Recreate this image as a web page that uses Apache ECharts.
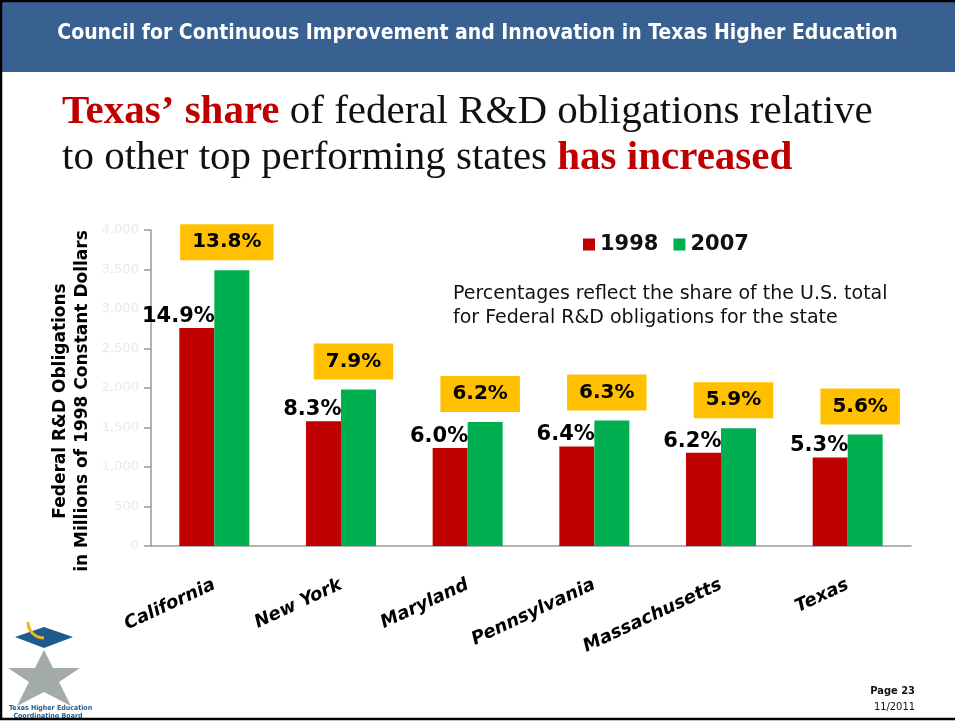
<!DOCTYPE html>
<html>
<head>
<meta charset="utf-8">
<script src="https://cdn.jsdelivr.net/npm/echarts@6/dist/echarts.min.js"></script>
<style>
  html, body { margin: 0; padding: 0; background: #fff; }
  #chartmain { width: 955px; height: 721px; }
</style>
</head>
<body>
<div id="chartmain"></div>
<script>
// states, in the order shown
var categories = ['California', 'New York', 'Maryland', 'Pennsylvania', 'Massachusetts', 'Texas']
// federal R&D obligations, millions of 1998 constant dollars
var obligations1998 = [2760, 1580, 1240, 1260, 1180, 1120]
var obligations2007 = [3490, 1980, 1570, 1590, 1490, 1410]
// share of the U.S. total, printed above the bars
var share1998 = ['14.9%', '8.3%', '6.0%', '6.4%', '6.2%', '5.3%']
var share2007 = ['13.8%', '7.9%', '6.2%', '6.3%', '5.9%', '5.6%']
// value axis
var yMin = 0
var yMax = 4000
var yStep = 500

var red = '#C00000'
var green = '#00B050'
var axisGray = '#9a9a9a'

var option = {
  backgroundColor: '#ffffff',
  animation: false,
  title: {
    left: 57,
    top: 84,
    text: '{r|Texas’ share} of federal R&D obligations relative\nto other top performing states {r|has increased}',
    textStyle: {
      fontFamily: 'Liberation Serif',
      fontSize: 41,
      fontWeight: 'normal',
      color: '#111',
      lineHeight: 46,
      rich: {
        r: {
          fontFamily: 'Liberation Serif',
          fontSize: 41,
          fontWeight: 'bold',
          color: red,
          lineHeight: 46,
        },
      },
    },
  },
  legend: {
    left: 578,
    top: 229,
    icon: 'rect',
    itemWidth: 12,
    itemHeight: 12,
    itemGap: 15,
    textStyle: {
      fontFamily: 'DejaVu Sans',
      fontWeight: 'bold',
      fontSize: 21,
      color: '#111',
    },
    data: ['1998', '2007'],
  },
  grid: {
    left: 151,
    right: 44,
    top: 230,
    bottom: 175,
  },
  xAxis: {
    type: 'category',
    data: categories,
    axisLine: { lineStyle: { color: axisGray, width: 1.5 } },
    axisTick: { length: 6, lineStyle: { color: axisGray, width: 1.5 } },
    axisLabel: {
      rotate: 25,
      margin: 38,
      interval: 0,
      fontFamily: 'DejaVu Sans',
      fontWeight: 'bold',
      fontStyle: 'italic',
      fontSize: 18,
      color: '#000',
    },
  },
  yAxis: {
    type: 'value',
    min: yMin,
    max: yMax,
    interval: yStep,
    name: 'Federal R&D Obligations\nin Millions of 1998 Constant Dollars',
    nameLocation: 'middle',
    nameRotate: 90,
    nameGap: 57,
    nameMoveOverlap: false,
    nameTextStyle: {
      fontFamily: 'DejaVu Sans',
      fontWeight: 'bold',
      fontSize: 17,
      lineHeight: 22,
      color: '#000',
      padding: [0, 26, 0, 0],
    },
    axisLine: { show: true, lineStyle: { color: axisGray, width: 1.5 } },
    axisTick: { show: true, length: 7, lineStyle: { color: axisGray, width: 1.5 } },
    splitLine: { show: false },
    axisLabel: {
      margin: 12,
      fontFamily: 'DejaVu Sans',
      fontSize: 13,
      color: '#e9e9e9',
      formatter: function (v) {
        return v.toLocaleString('en-US')
      },
    },
  },
  series: [
    {
      name: '1998',
      type: 'bar',
      barWidth: 35,
      barGap: '0%',
      itemStyle: { color: red },
      label: {
        show: true,
        position: 'top',
        distance: 1,
        align: 'right',
        offset: [18, 0],
        fontFamily: 'DejaVu Sans',
        fontWeight: 'bold',
        fontSize: 21,
        color: '#000',
        formatter: function (p) {
          return share1998[p.dataIndex]
        },
      },
      data: obligations1998,
    },
    {
      name: '2007',
      type: 'bar',
      barWidth: 35,
      itemStyle: { color: green },
      label: {
        show: true,
        position: 'top',
        distance: 10,
        offset: [-5, 0],
        backgroundColor: '#FFC000',
        padding: [7, 12, 7, 12],
        lineHeight: 22,
        fontFamily: 'DejaVu Sans',
        fontWeight: 'bold',
        fontSize: 20,
        color: '#000',
        formatter: function (p) {
          return share2007[p.dataIndex]
        },
      },
      data: obligations2007,
    },
  ],
  graphic: [
    // slide frame (left, top, bottom edges)
    {
      type: 'polyline',
      shape: { points: [[955, 1], [1, 1], [1, 719], [955, 719]] },
      style: { stroke: '#000', lineWidth: 2.5, fill: 'none' },
      z: 3,
    },
    // header band
    { type: 'rect', left: 2, top: 2, shape: { width: 953, height: 70 }, style: { fill: '#386192' }, z: 1 },
    {
      type: 'text',
      left: 'center',
      top: 23,
      style: {
        text: 'Council for Continuous Improvement and Innovation in Texas Higher Education',
        fill: '#fff',
        font: 'bold 21px "DejaVu Sans Condensed"',
      },
      z: 2,
    },
    {
      type: 'text',
      left: 453,
      top: 282,
      style: {
        text: 'Percentages reflect the share of the U.S. total\nfor Federal R&D obligations for the state',
        fill: '#111',
        font: '19px "DejaVu Sans"',
        lineHeight: 24,
      },
    },
    // page footer
    {
      type: 'text',
      right: 40,
      top: 686,
      style: { text: 'Page 23', fill: '#111', font: 'bold 11px "DejaVu Sans Condensed"' },
    },
    {
      type: 'text',
      right: 40,
      top: 702,
      style: { text: '11/2011', fill: '#111', font: '11px "DejaVu Sans Condensed"' },
    },
    // coordinating board logo
    {
      type: 'polygon',
      shape: {
        points: [
          [44, 650], [53, 668], [80, 668], [59, 682], [71, 706],
          [44, 692], [17, 706], [29, 682], [8, 668], [35, 668],
        ],
      },
      style: { fill: '#a3aca9' },
    },
    {
      type: 'polygon',
      shape: { points: [[44, 627], [73, 637], [44, 648], [15, 637]] },
      style: { fill: '#1f5c8e' },
    },
    {
      type: 'polyline',
      shape: { points: [[28, 622], [30, 630], [36, 636], [44, 638]], smooth: 0.5 },
      style: { stroke: '#f2b21b', lineWidth: 3, fill: 'none' },
    },
    {
      type: 'text',
      left: 9,
      top: 704,
      style: {
        text: 'Texas Higher Education\n  Coordinating Board',
        fill: '#1f5c8e',
        font: 'bold 7px "DejaVu Sans Condensed"',
        lineHeight: 8,
      },
    },
  ],
}

var myChart = echarts.init(document.getElementById('chartmain'))
myChart.setOption(option)
</script>
</body>
</html>
